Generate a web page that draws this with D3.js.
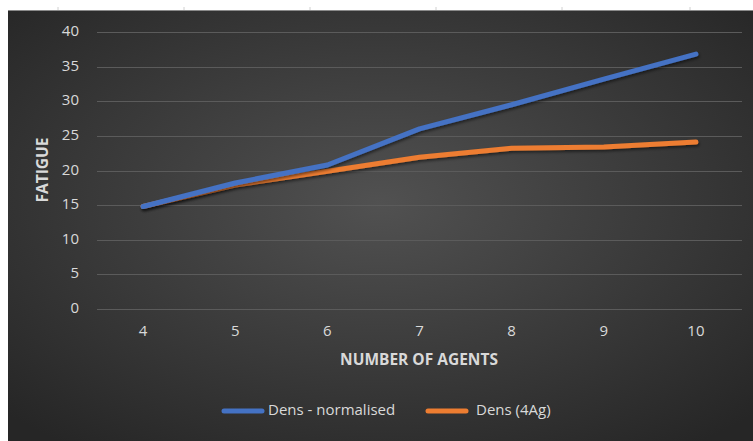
<!DOCTYPE html>
<html>
<head>
<meta charset="utf-8">
<script src="https://cdn.jsdelivr.net/npm/d3@7"></script>
<style>
  body { margin: 0; background: #fff; }
  svg { display: block; }
</style>
</head>
<body>
<svg id="chart" width="753" height="441"></svg>
<script>
// data
const agents = ["4", "5", "6", "7", "8", "9", "10"];
const densNormalised = [14.8, 18.2, 20.8, 26.0, 29.5, 33.2, 36.8];
const dens4Ag = [14.8, 17.9, 19.9, 21.9, 23.2, 23.4, 24.1];
const yTicks = [0, 5, 10, 15, 20, 25, 30, 35, 40];
const seriesNames = ["Dens - normalised", "Dens (4Ag)"];

const blueColor = "#4472c4";
const orangeColor = "#ed7d31";
const textColor = "#d9d9d9";
const gridColor = "#5b5b5b";
const fontFamily = "'Open Sans', 'Liberation Sans', sans-serif";

let svg = d3.select("#chart");
let defs = svg.append("defs");

let grad = defs.append("radialGradient")
  .attr("id", "bgGrad")
  .attr("cx", "50%").attr("cy", "45%").attr("r", "70%");
grad.append("stop").attr("offset", "0%").attr("stop-color", "#515151");
grad.append("stop").attr("offset", "100%").attr("stop-color", "#262626");

let shadow = defs.append("filter")
  .attr("id", "lineShadow")
  .attr("x", "-10%").attr("y", "-10%").attr("width", "120%").attr("height", "130%");
shadow.append("feDropShadow")
  .attr("dx", 1).attr("dy", 2).attr("stdDeviation", 1.5)
  .attr("flood-color", "#000").attr("flood-opacity", 0.5);

// ruler ticks in the white strip at the top
[58, 184, 310, 436, 562, 690].forEach(x => {
  svg.append("line")
    .attr("x1", x).attr("x2", x).attr("y1", 7).attr("y2", 10)
    .style("stroke", "#d0d0d0");
});

// chart background
svg.append("rect")
  .attr("x", 8).attr("y", 10)
  .attr("width", 745).attr("height", 431)
  .style("fill", "url(#bgGrad)");
svg.append("line")
  .attr("x1", 8).attr("x2", 753).attr("y1", 10.5).attr("y2", 10.5)
  .style("stroke", "#8a8a8a");

// scales
let plotLeft = 97, plotRight = 742, plotTop = 32, plotBottom = 309;

let xScale = d3.scalePoint()
  .domain(agents)
  .range([plotLeft, plotRight])
  .padding(0.5);

let yScale = d3.scaleLinear()
  .domain([0, 40])
  .range([plotBottom, plotTop]);

// grid lines
svg.append("g")
  .selectAll("line")
  .data(yTicks)
  .join("line")
  .attr("x1", plotLeft).attr("x2", plotRight)
  .attr("y1", d => Math.round(yScale(d)) + 0.5)
  .attr("y2", d => Math.round(yScale(d)) + 0.5)
  .style("stroke", gridColor)
  .style("stroke-width", 1);

// y tick labels
svg.append("g")
  .selectAll("text")
  .data(yTicks)
  .join("text")
  .attr("x", 79)
  .attr("y", d => yScale(d))
  .text(d => d)
  .style("text-anchor", "end")
  .style("dominant-baseline", "middle")
  .style("font-family", fontFamily)
  .style("font-size", "15px")
  .style("fill", textColor);

// x tick labels
svg.append("g")
  .selectAll("text")
  .data(agents)
  .join("text")
  .attr("x", d => xScale(d))
  .attr("y", 332)
  .text(d => d)
  .style("text-anchor", "middle")
  .style("dominant-baseline", "middle")
  .style("font-family", fontFamily)
  .style("font-size", "15px")
  .style("fill", textColor);

// axis titles
svg.append("text")
  .attr("transform", "translate(44, 170) rotate(-90)")
  .text("FATIGUE")
  .style("text-anchor", "middle")
  .style("dominant-baseline", "middle")
  .style("font-family", fontFamily)
  .style("font-weight", "bold")
  .style("font-size", "15.5px")
  .style("fill", textColor);

svg.append("text")
  .attr("x", 419)
  .attr("y", 361)
  .text("NUMBER OF AGENTS")
  .style("text-anchor", "middle")
  .style("dominant-baseline", "middle")
  .style("font-family", fontFamily)
  .style("font-weight", "bold")
  .style("font-size", "15.5px")
  .style("fill", textColor);

// lines
let line = d3.line()
  .x((d, i) => xScale(agents[i]))
  .y(d => yScale(d));

[[dens4Ag, orangeColor], [densNormalised, blueColor]].forEach(([values, color]) => {
  svg.append("path")
    .datum(values)
    .attr("d", line)
    .attr("filter", "url(#lineShadow)")
    .style("fill", "none")
    .style("stroke", color)
    .style("stroke-width", 5)
    .style("stroke-linecap", "round")
    .style("stroke-linejoin", "round");
});

// legend
let legendItems = [
  {name: seriesNames[0], color: blueColor, x: 222, textX: 268},
  {name: seriesNames[1], color: orangeColor, x: 426, textX: 476}
];
legendItems.forEach(item => {
  svg.append("line")
    .attr("x1", item.x + 2).attr("x2", item.x + 40)
    .attr("y1", 411).attr("y2", 411)
    .style("stroke", item.color)
    .style("stroke-width", 5)
    .style("stroke-linecap", "round");
  svg.append("text")
    .attr("x", item.textX)
    .attr("y", 411)
    .text(item.name)
    .style("dominant-baseline", "middle")
    .style("font-family", fontFamily)
    .style("font-size", "15px")
    .style("fill", textColor);
});
</script>
</body>
</html>
